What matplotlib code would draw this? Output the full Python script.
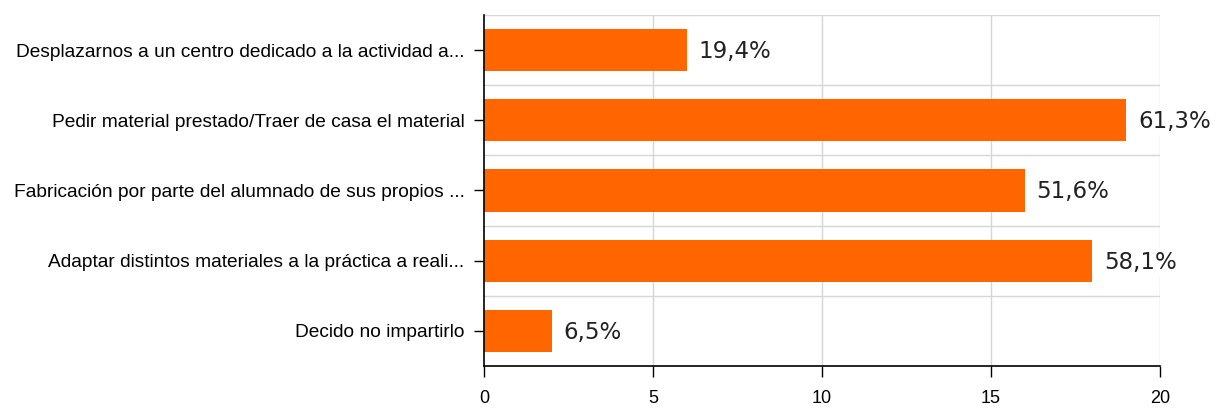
import matplotlib
matplotlib.use("Agg")
import matplotlib.pyplot as plt

categories = [
    "Desplazarnos a un centro dedicado a la actividad a...",
    "Pedir material prestado/Traer de casa el material",
    "Fabricación por parte del alumnado de sus propios ...",
    "Adaptar distintos materiales a la práctica a reali...",
    "Decido no impartirlo",
]
counts = [6, 19, 16, 18, 2]
labels = ["19,4%", "61,3%", "51,6%", "58,1%", "6,5%"]
xticks = [0, 5, 10, 15, 20]

fig = plt.figure(figsize=(12.26, 4.11), dpi=100)
ax = fig.add_axes([0.3948, 0.1095, 0.9462 - 0.3948, 0.9635 - 0.1095])

ypos = list(range(len(categories)))
ax.barh(ypos, counts, height=0.6, color="#ff6600", zorder=3)

# grid: vertical at ticks, horizontal at category boundaries
for x in xticks[1:]:
    ax.axvline(x, color="#d6d6d6", lw=1, zorder=1)
for i in range(len(categories)):
    ax.axhline(i - 0.5, color="#d6d6d6", lw=1, zorder=1)

for y, v, t in zip(ypos, counts, labels):
    ax.annotate(t, (v, y), xytext=(8.5, -1), textcoords="offset points",
                va="center", ha="left", fontsize=16.5, family="DejaVu Sans",
                color="#222222", zorder=5,
                bbox=dict(boxstyle="square,pad=0.1", fc="white", ec="none"))

ax.set_xlim(0, 20)
ax.set_ylim(len(categories) - 0.5, -0.5)
ax.set_yticks(ypos)
ax.set_yticklabels(categories, family="Liberation Sans", fontsize=13.8)
ax.set_xticks(xticks)
ax.set_xticklabels([str(x) for x in xticks], family="Liberation Sans", fontsize=13)
ax.tick_params(axis="y", length=7, width=1, pad=7)
ax.tick_params(axis="x", length=8, width=1, pad=9)

for s in ["top", "right"]:
    ax.spines[s].set_visible(False)
ax.spines["left"].set_linewidth(1.2)
ax.spines["bottom"].set_linewidth(1.2)
ax.spines["left"].set_zorder(4)

fig.savefig("out.png", dpi=100)
